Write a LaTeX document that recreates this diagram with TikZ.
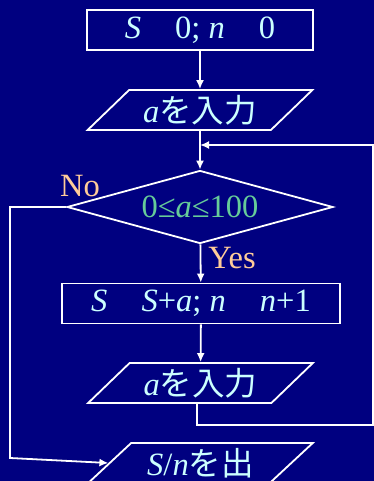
\documentclass[tikz,border=0pt]{standalone}
\usepackage{fontspec}
\setmainfont{Liberation Serif}
\newfontfamily\jpfont{Noto Sans CJK JP}
\usetikzlibrary{shapes.geometric,arrows.meta}

\definecolor{navybg}{HTML}{000080}
\definecolor{ltcyan}{HTML}{CCFFFF}
\definecolor{peach}{HTML}{FFCC99}
\definecolor{mint}{HTML}{66CC99}

\tikzset{
  flowline/.style={draw=white, line width=1.8pt},
  procbox/.style={flowline, rectangle, text=ltcyan, minimum height=40pt, inner sep=0pt},
  iobox/.style={flowline, trapezium, trapezium left angle=42, trapezium right angle=138,
    trapezium stretches=true, minimum width=225pt, minimum height=40pt, inner sep=0pt, text=ltcyan},
  decbox/.style={flowline, diamond, shape aspect=3.64, minimum width=266pt, minimum height=73pt,
    inner sep=0pt, text=mint},
  answer/.style={text=peach, inner sep=0pt}
}
\newcommand{\gap}{\hspace{1.05em}}

\begin{document}
\begin{tikzpicture}[x=1pt, y=-1pt, >={Latex[length=9pt,width=8pt]},
    font=\fontsize{32.5}{36}\selectfont]
    % background and frame size
    \fill[navybg] (0,0) rectangle (374,481);
    \useasboundingbox (0,0) rectangle (374,481);
    % boxes:
    \node[procbox, minimum width=226pt] (init) at (200,30) {\textit{S}\gap 0; \textit{n}\gap 0}; % start values
    \node[iobox] (inA) at (200,110) {\textit{a}{\jpfont を入力}}; % first input
    \node[decbox] (test) at (200,207) {0≤\textit{a}≤100}; % check
    \node[procbox, minimum width=278pt] (update) at (201,303.5) {\textit{S}\gap\textit{S}+\textit{a}; \textit{n}\gap\textit{n}+1};
    \node[iobox] (inB) at (200.5,383) {\textit{a}{\jpfont を入力}}; % next input
    \node[iobox] (outM) at (200.5,463) {\textit{S}/\textit{n}{\jpfont を出}}; % output
    % answers:
    \node[answer] (no) at (80,186) {No};
    \node[answer] (yes) at (232,258) {Yes};
    % main line:
    \draw[flowline, ->] (init) -- (inA);
    \draw[flowline, ->] (inA) -- (test);
    \draw[flowline, ->] (test) -- (update);
    \draw[flowline, ->] (update) -- (inB);
    % loop back:
    \coordinate (back) at (200,145);
    \draw[flowline, ->] ([xshift=-3.5pt]inB.south) |- (373,425) |- (back);
    % leave the loop:
    \draw[flowline, ->] (test.west) -- (10,207) -- (10,458) -- (outM.west);
\end{tikzpicture}
\end{document}
